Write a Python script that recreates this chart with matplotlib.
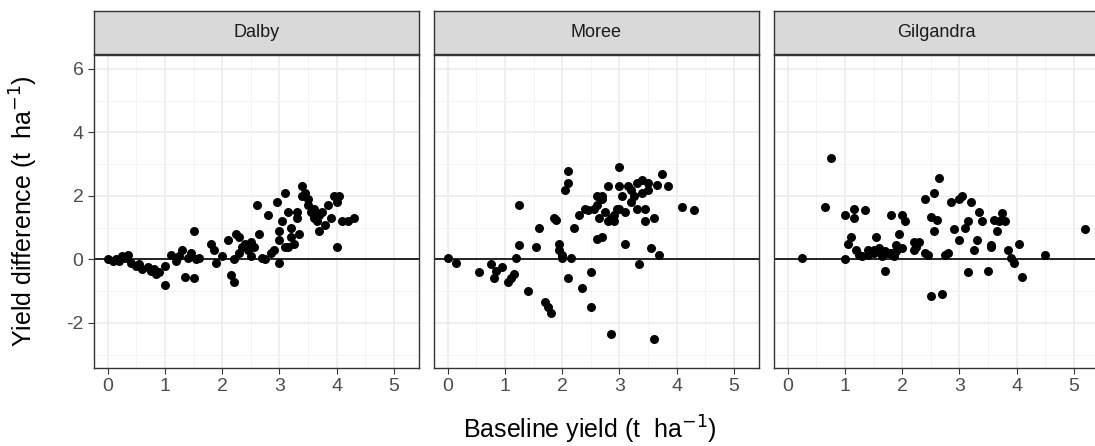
import matplotlib
matplotlib.use("Agg")
import matplotlib.pyplot as plt
import numpy as np

sites = ["Dalby", "Moree", "Gilgandra"]
dalby = [(0,0.02),(0.1,-0.05),(0.15,0),(0.2,-0.05),(0.25,0.1),(0.3,0.05),(0.35,0.15),(0.4,-0.1),(0.5,-0.2),(0.55,-0.15),(0.6,-0.3),(0.7,-0.25),(0.75,-0.35),(0.8,-0.3),(0.9,-0.4),(0.85,-0.45),(1.0,-0.8),(1.0,-0.2),(1.1,0.15),(1.2,-0.05),(1.25,0.1),(1.3,0.3),(1.35,-0.55),(1.4,0.05),(1.45,0.2),(1.5,-0.6),(1.5,0.9),(1.55,0),(1.8,0.5),(1.85,0.3),(1.9,-0.1),(2.1,0.6),(2.15,-0.5),(2.2,-0.7),(2.2,0),(2.25,0.8),(2.3,0.2),(2.35,0.4),(2.4,0.5),(2.45,0.3),(2.5,0.1),(2.55,0.4),(2.6,1.7),(2.65,0.8),(2.7,0.05),(2.75,0),(2.8,1.4),(2.85,0.2),(2.9,0.3),(2.95,1.8),(3.0,0.6),(3.0,-0.1),(3.05,1.2),(3.1,2.1),(3.1,0.4),(3.15,1.5),(3.2,1.0),(3.2,0.7),(3.25,0.5),(3.3,1.3),(3.35,0.8),(3.4,2.3),(3.4,2.0),(3.45,2.1),(3.5,1.7),(3.55,1.5),(3.6,1.6),(3.65,1.2),(3.7,1.4),(3.7,0.9),(3.75,1.5),(3.8,1.1),(3.85,1.7),(3.9,1.3),(3.95,2.0),(4.0,1.8),(4.0,0.4),(4.05,2.0),(4.1,1.2),(4.2,1.2),(4.3,1.3),(3.3,1.5),(3.5,1.9),(2.0,0.1),(2.5,0.55),(3.0,0.9),(3.6,1.3),(1.6,0.05),(2.3,0.7),(3.15,0.4)]
moree = [(0.0,0.05),(0.15,-0.1),(0.55,-0.4),(0.75,-0.15),(0.8,-0.6),(0.85,-0.35),(0.95,-0.25),(1.05,-0.7),(1.1,-0.6),(1.15,-0.45),(1.2,0.05),(1.25,0.45),(1.25,1.7),(1.4,-1.0),(1.55,0.4),(1.6,1.0),(1.7,-1.35),(1.75,-1.5),(1.8,-1.7),(1.85,1.3),(1.9,1.25),(1.95,0.5),(1.95,0.3),(2.0,0.15),(2.0,0.05),(2.05,2.2),(2.1,2.8),(2.1,2.4),(2.1,-0.6),(2.15,0.05),(2.2,1.0),(2.3,1.4),(2.35,-0.9),(2.4,1.6),(2.5,-1.5),(2.5,-0.4),(2.55,1.6),(2.6,1.7),(2.65,1.3),(2.7,1.9),(2.7,2.0),(2.75,1.5),(2.8,1.2),(2.85,1.3),(2.85,-2.35),(2.9,1.2),(2.95,1.6),(3.0,2.9),(3.0,2.3),(3.05,2.0),(3.1,1.5),(3.1,0.5),(3.15,2.3),(3.2,2.2),(3.25,2.0),(3.3,1.6),(3.35,-0.15),(3.4,2.5),(3.45,1.2),(3.5,2.4),(3.55,0.35),(3.6,-2.5),(3.65,2.35),(3.7,0.15),(3.75,2.7),(3.85,2.3),(4.1,1.65),(4.3,1.55),(2.6,0.65),(2.7,0.7),(3.0,1.6),(2.9,1.4),(3.2,1.8),(3.4,2.1),(3.6,1.3),(3.5,2.2),(2.8,2.3),(3.3,2.4),(2.45,1.55),(2.6,2.0),(3.45,1.6)]
gilgandra = [(0.25,0.05),(0.65,1.65),(0.75,3.2),(1.0,1.4),(1.0,0.0),(1.05,0.5),(1.1,0.7),(1.15,1.6),(1.15,1.3),(1.2,0.3),(1.25,0.15),(1.3,0.1),(1.35,1.55),(1.4,0.15),(1.5,0.3),(1.55,0.7),(1.6,0.3),(1.65,0.1),(1.7,0.25),(1.7,-0.35),(1.75,0.2),(1.8,1.4),(1.85,0.1),(1.9,0.45),(1.95,0.8),(2.0,1.4),(2.0,0.35),(2.05,1.2),(2.2,0.3),(2.3,0.55),(2.4,1.9),(2.45,0.15),(2.5,1.35),(2.5,-1.15),(2.55,2.1),(2.55,0.9),(2.6,1.25),(2.65,2.55),(2.7,-1.1),(2.75,0.15),(2.85,1.8),(2.9,0.95),(3.0,0.6),(3.05,2.0),(3.15,1.2),(3.15,-0.4),(3.2,1.8),(3.25,0.3),(3.3,0.6),(3.35,1.5),(3.4,1.2),(3.5,-0.35),(3.55,0.4),(3.6,1.25),(3.65,0.9),(3.7,1.2),(3.75,1.45),(3.8,1.2),(3.85,0.3),(3.9,0.05),(3.95,-0.1),(4.05,0.5),(4.1,-0.55),(4.5,0.15),(5.2,0.95),(1.5,0.2),(1.6,0.35),(1.8,0.2),(2.25,0.4),(2.4,0.2),(2.8,0.2),(3.0,1.9),(3.55,0.45),(1.4,0.3),(1.9,0.25),(2.2,0.55),(3.1,1.0)]
data = [dalby, moree, gilgandra]
xticks = [0, 1, 2, 3, 4, 5]
yticks = [-2, 0, 2, 4, 6]

plt.rcParams['font.family'] = ['Liberation Sans Narrow', 'Liberation Sans', 'DejaVu Sans']
plt.rcParams['mathtext.fontset'] = 'custom'
plt.rcParams['mathtext.rm'] = 'Liberation Sans Narrow'
plt.rcParams['mathtext.default'] = 'rm'
W, H = 1095, 446
fig = plt.figure(figsize=(W/100, H/100), dpi=100)
lefts = [94, 434, 774]
pw = 325
for i, (site, pts) in enumerate(zip(sites, data)):
    l = lefts[i]
    ax = fig.add_axes([l/W, (H-368)/H, pw/W, 313/H])
    sa = fig.add_axes([l/W, (H-54)/H, pw/W, 43/H])
    sa.set_facecolor('#d9d9d9')
    sa.set_xticks([]); sa.set_yticks([])
    for s in sa.spines.values():
        s.set_color('#333333'); s.set_linewidth(1)
    sa.text(0.5, 0.5, site, ha='center', va='center', fontsize=13, color='#1a1a1a', transform=sa.transAxes)
    arr = np.array(pts)
    ax.set_xlim(-0.24, 5.44)
    ax.set_ylim(-3.42, 6.44)
    ax.set_xticks(xticks)
    ax.set_yticks(yticks)
    ax.set_xticks(np.arange(0.5, 5.5, 1), minor=True)
    ax.set_yticks(np.arange(-3, 6.5, 2), minor=True)
    ax.grid(True, which='major', color='#ebebeb', lw=1.1)
    ax.grid(True, which='minor', color='#f2f2f2', lw=0.6)
    ax.set_axisbelow(True)
    ax.axhline(0, color='black', lw=1.2, zorder=2)
    ax.scatter(arr[:, 0], arr[:, 1], s=42, color='black', zorder=3, linewidths=0)
    for s in ax.spines.values():
        s.set_color('#333333'); s.set_linewidth(1)
    ax.tick_params(which='major', length=4, color='#333333', labelsize=14, labelcolor='#4d4d4d')
    ax.tick_params(which='minor', length=0)
    if i > 0:
        ax.tick_params(axis='y', length=0, labelleft=False)
    ax.set_xticklabels([str(t) for t in xticks])
    if i == 0:
        ax.set_yticklabels([str(t) for t in yticks])

fig.text((94+1085)/2/W, 1-430/H, r'Baseline yield (t  ha$^{-1}$)', ha='center', va='center', fontsize=18)
fig.text(24/W, 1-211/H, r'Yield difference (t  ha$^{-1}$)', ha='center', va='center', rotation=90, fontsize=18)
fig.savefig('out.png', dpi=100)
